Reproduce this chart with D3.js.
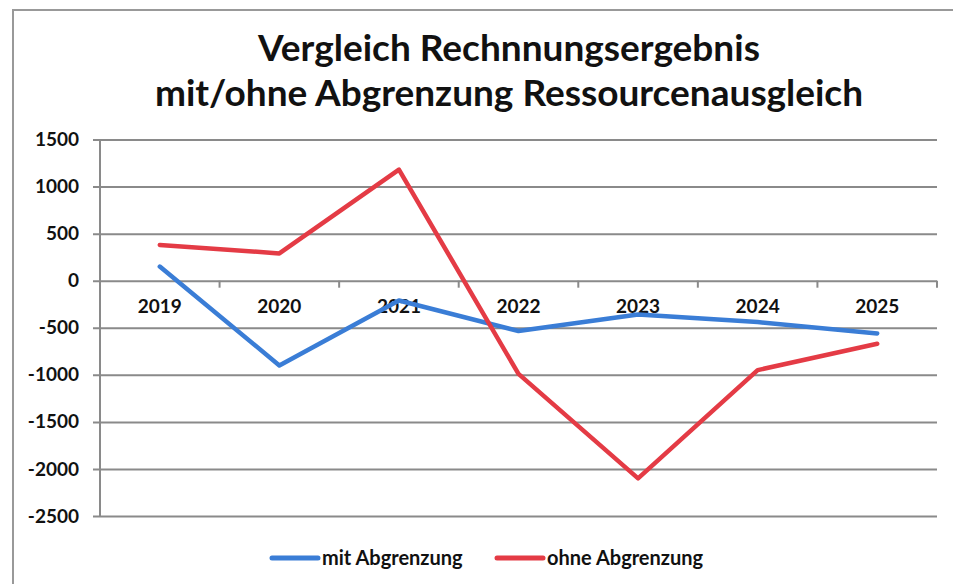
<!DOCTYPE html>
<html>

<head>
    <meta charset="UTF-8">
    <title>Vergleich Rechnungsergebnis</title>
    <script src="https://cdn.jsdelivr.net/npm/d3@7"></script>
    <style>
        body { margin: 0; background: #fff; }
        text { font-family: Lato, "Open Sans", sans-serif; fill: #111; }
    </style>
</head>

<body>
    <script>
        // data
        const years = ["2019", "2020", "2021", "2022", "2023", "2024", "2025"];
        const mitAbgrenzung = [150, -900, -210, -535, -360, -440, -560];
        const ohneAbgrenzung = [380, 290, 1180, -990, -2100, -950, -670];
        const yTicks = [-2500, -2000, -1500, -1000, -500, 0, 500, 1000, 1500];
        const titleLines = ["Vergleich Rechnnungsergebnis", "mit/ohne Abgrenzung Ressourcenausgleich"];
        const seriesNames = ["mit Abgrenzung", "ohne Abgrenzung"];

        const width = 953, height = 584;
        const plotLeft = 100, plotRight = 937, plotTop = 139.5, plotBottom = 516;
        const blue = "#3a7dd6", red = "#e43b45", grid = "#8a8a8a";

        const svg = d3.select("body").append("svg")
            .attr("width", width).attr("height", height);

        // outer frame (cut off on the right and bottom in the scan)
        svg.append("path")
            .attr("d", `M13,${height}V10H${width}`)
            .attr("fill", "none").attr("stroke", "#999").attr("stroke-width", 2);

        svg.append("g").selectAll("text")
            .data(titleLines)
            .enter().append("text")
            .attr("x", 509)
            .attr("y", (d, i) => 61 + i * 45)
            .attr("text-anchor", "middle")
            .style("font-size", "37px")
            .style("font-weight", "bold")
            .text(d => d);

        const xScale = d3.scaleBand()
            .domain(years)
            .range([plotLeft, plotRight]);

        const yScale = d3.scaleLinear()
            .domain([-2500, 1500])
            .range([plotBottom, plotTop]);

        // gridlines + y labels (plain hyphen for negatives, like the original)
        const yAxis = svg.append("g")
            .attr("transform", `translate(${plotLeft},0)`)
            .call(d3.axisLeft(yScale).tickValues(yTicks).tickFormat(d => String(d))
                .tickSize(-(plotRight - plotLeft)).tickPadding(21));
        yAxis.select(".domain").remove();
        yAxis.selectAll(".tick line")
            .attr("x1", -7)
            .attr("stroke", grid).attr("stroke-width", 2);
        yAxis.selectAll(".tick text")
            .style("font-size", "19px").style("font-weight", "bold")
            .attr("fill", "#111");

        svg.append("line")
            .attr("x1", plotLeft).attr("x2", plotLeft)
            .attr("y1", plotTop).attr("y2", plotBottom)
            .attr("stroke", grid).attr("stroke-width", 2);

        // category axis on the zero line
        const zeroY = yScale(0);
        const xAxis = svg.append("g")
            .attr("transform", `translate(0,${zeroY})`)
            .call(d3.axisBottom(xScale).tickSize(0).tickPadding(19));
        xAxis.select(".domain").remove();
        xAxis.selectAll(".tick text")
            .style("font-size", "19px").style("font-weight", "bold")
            .attr("fill", "#111");

        svg.append("g").selectAll("line")
            .data(years.map(d => xScale(d)).concat([plotRight]))
            .enter().append("line")
            .attr("x1", d => d).attr("x2", d => d)
            .attr("y1", zeroY).attr("y2", zeroY + 7)
            .attr("stroke", grid).attr("stroke-width", 2);

        const line = d3.line()
            .x((d, i) => xScale(years[i]) + xScale.bandwidth() / 2)
            .y(d => yScale(d));

        [[mitAbgrenzung, blue], [ohneAbgrenzung, red]].forEach(([values, color]) => {
            svg.append("path")
                .datum(values)
                .attr("d", line)
                .attr("fill", "none")
                .attr("stroke", color)
                .attr("stroke-width", 4.5)
                .attr("stroke-linejoin", "round")
                .attr("stroke-linecap", "round");
        });

        // legend
        const legend = svg.append("g").selectAll("g")
            .data(seriesNames)
            .enter().append("g")
            .attr("transform", (d, i) => `translate(${272 + i * 225},558)`);
        legend.append("line")
            .attr("x1", 0).attr("x2", 46)
            .attr("stroke", (d, i) => i === 0 ? blue : red)
            .attr("stroke-width", 5)
            .attr("stroke-linecap", "round");
        legend.append("text")
            .attr("x", 50).attr("y", 7)
            .style("font-size", "20px")
            .style("font-weight", "bold")
            .text(d => d);
    </script>
</body>

</html>
